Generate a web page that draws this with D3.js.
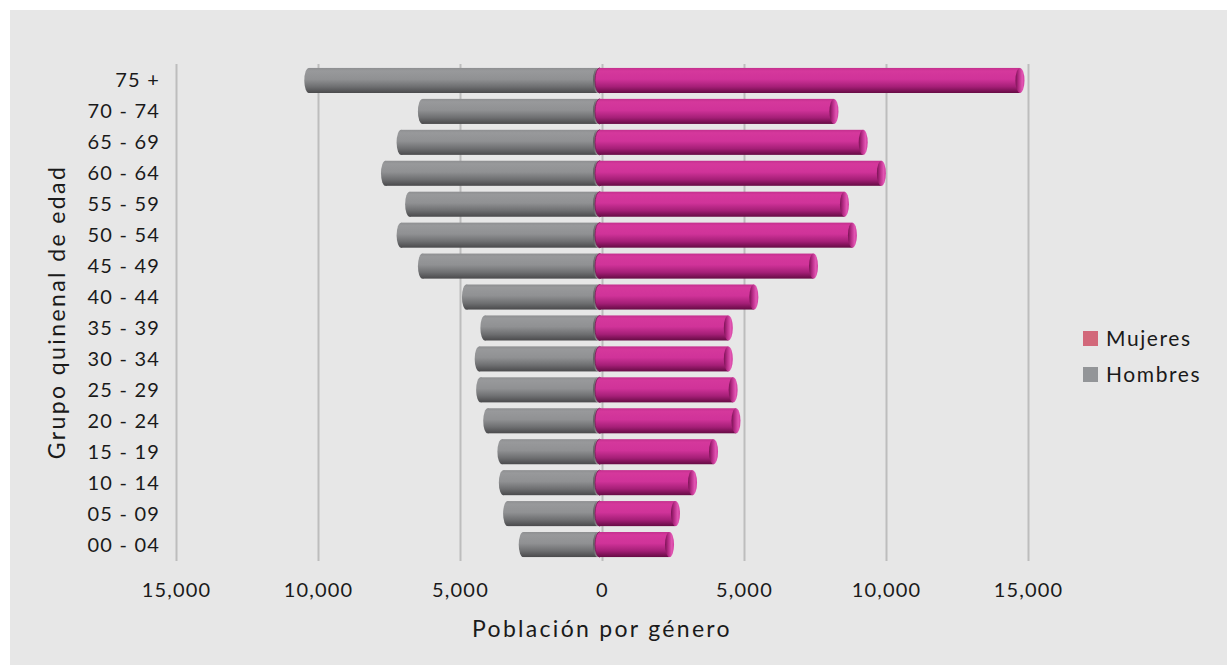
<!DOCTYPE html>
<html><head><meta charset="utf-8">
<script src="https://cdn.jsdelivr.net/npm/d3@7"></script>
<style>
html,body{margin:0;padding:0;background:#fff;}
svg{display:block;font-family:Lato,"Noto Sans",sans-serif;}
</style></head>
<body>
<script>
const ageGroups = ["75 +","70 - 74","65 - 69","60 - 64","55 - 59","50 - 54","45 - 49","40 - 44","35 - 39","30 - 34","25 - 29","20 - 24","15 - 19","10 - 14","05 - 09","00 - 04"];
const hombres = [10500,6500,7250,7800,6950,7250,6500,4950,4300,4500,4450,4200,3700,3650,3500,2950];
const mujeres = [14700,8150,9180,9820,8520,8800,7430,5330,4430,4430,4600,4700,3910,3170,2570,2360];
const tickValues = [-15000,-10000,-5000,0,5000,10000,15000];
const seriesNames = ["Mujeres","Hombres"];
const legendColors = ["#d2687a","#939598"];

const W=1227,H=665;
const svg=d3.select("body").append("svg").attr("width",W).attr("height",H);
svg.append("rect").attr("x",10).attr("y",10).attr("width",W-10).attr("height",H-10).attr("fill","#e7e7e7");

const defs=svg.append("defs");
function vgrad(id,stops){
  const g=defs.append("linearGradient").attr("id",id).attr("x1",0).attr("y1",0).attr("x2",0).attr("y2",1);
  stops.forEach(s=>g.append("stop").attr("offset",s[0]).attr("stop-color",s[1]));
}
function hgrad(id,stops){
  const g=defs.append("linearGradient").attr("id",id).attr("x1",0).attr("y1",0).attr("x2",1).attr("y2",0);
  stops.forEach(s=>g.append("stop").attr("offset",s[0]).attr("stop-color",s[1]));
}
vgrad("gBody",[[0,"#8e8f91"],[0.12,"#98999b"],[0.45,"#909193"],[0.75,"#6e6f71"],[1,"#4a4a4c"]]);
vgrad("fBody",[[0,"#c42f8e"],[0.12,"#d5389c"],[0.45,"#d03399"],[0.75,"#a51f77"],[1,"#660b44"]]);
hgrad("fCap",[[0,"#7a1354"],[0.35,"#b52a85"],[0.75,"#e256b3"],[1,"#d23e9f"]]);
hgrad("gCap",[[0,"#5a5a5c"],[0.4,"#8d8e90"],[1,"#c4c5c7"]]);

const x=d3.scaleLinear().domain([-15000,15000]).range([176.5,1028.5]);
const y=d3.scaleBand().domain(ageGroups).range([65,560]).paddingInner(0.19).paddingOuter(0.095);

// gridlines
svg.append("g").selectAll("line").data(tickValues).join("line")
  .attr("x1",d=>x(d)).attr("x2",d=>x(d)).attr("y1",64).attr("y2",561)
  .attr("stroke","#bdbdbd").attr("stroke-width",2);

// x tick labels
svg.append("g").selectAll("text").data(tickValues).join("text")
  .attr("x",d=>x(d)).attr("y",597).attr("text-anchor","middle")
  .attr("font-size",20).attr("letter-spacing",1.2).attr("fill","#1a1a1a")
  .text(d=>d3.format(",")(Math.abs(d)));

// y labels
svg.append("g").selectAll("text").data(ageGroups).join("text")
  .attr("x",160).attr("y",d=>y(d)+y.bandwidth()/2+7).attr("text-anchor","end")
  .attr("font-size",20).attr("letter-spacing",1.2).attr("fill","#1a1a1a").text(d=>d);

const bh=y.bandwidth(), rx=4.5;
const base=x(0)-5;
const rows=ageGroups.map((a,i)=>({a,h:hombres[i],m:mujeres[i]}));
const bars=svg.append("g");
rows.forEach(r=>{
  const y0=y(r.a), cy=y0+bh/2;
  const xl=x(-r.h);
  bars.append("ellipse").attr("cx",xl+rx).attr("cy",cy).attr("rx",rx).attr("ry",bh/2).attr("fill","url(#gBody)");
  bars.append("rect").attr("x",xl+rx).attr("y",y0).attr("width",base-(xl+rx)).attr("height",bh).attr("fill","url(#gBody)");
  bars.append("ellipse").attr("cx",base).attr("cy",cy).attr("rx",rx).attr("ry",bh/2).attr("fill","url(#gCap)");
  const xr=x(r.m);
  bars.append("ellipse").attr("cx",base+2).attr("cy",cy).attr("rx",rx).attr("ry",bh/2).attr("fill","url(#fBody)").attr("stroke","#7a1656").attr("stroke-width",0.8);
  bars.append("rect").attr("x",base+2).attr("y",y0).attr("width",xr-(base+2)).attr("height",bh).attr("fill","url(#fBody)");
  bars.append("ellipse").attr("cx",xr).attr("cy",cy).attr("rx",rx).attr("ry",bh/2).attr("fill","url(#fCap)");
});

// axis titles
svg.append("text").attr("x",602).attr("y",637).attr("text-anchor","middle")
  .attr("font-size",23).attr("fill","#1a1a1a").attr("letter-spacing",2.3).text("Población por género");
svg.append("text").attr("transform","translate(65,312) rotate(-90)").attr("text-anchor","middle")
  .attr("font-size",23).attr("fill","#1a1a1a").attr("letter-spacing",2.4).text("Grupo quinenal de edad");

// legend
const lg=svg.append("g");
seriesNames.forEach((n,i)=>{
  lg.append("rect").attr("x",1083).attr("y",331+i*36).attr("width",15).attr("height",15).attr("fill",legendColors[i]);
  lg.append("text").attr("x",1106).attr("y",346+i*36).attr("font-size",21).attr("letter-spacing",1.6).attr("fill","#1a1a1a").text(n);
});
</script>
</body></html>
